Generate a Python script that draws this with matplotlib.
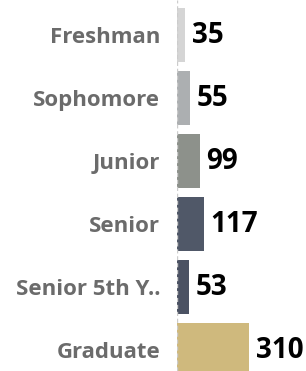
import matplotlib.pyplot as plt

categories = ["Freshman", "Sophomore", "Junior", "Senior", "Senior 5th Y..", "Graduate"]
counts = [35, 55, 99, 117, 53, 310]
colors = ["#d5d5d5", "#acafb1", "#8d918b", "#505868", "#4b5263", "#cfb97d"]

fig = plt.figure(figsize=(3.06, 3.71), dpi=100)
ax = fig.add_axes([177 / 306, 0, 1 - 177 / 306, 1])

pos = list(range(len(categories)))
ax.barh(pos, counts, height=0.86, color=colors)

for p, v in zip(pos, counts):
    ax.text(v + 28, p, str(v), va="center", ha="left",
            fontsize=20, fontweight="bold", family="Open Sans", color="black")

ax.set_xlim(0, 555)
ax.set_ylim(5.33, -0.556)
ax.axvline(0, color="#cccccc", lw=1, ls=(0, (3, 2)))

ax.set_yticks(pos)
ax.set_yticklabels(categories, fontsize=16, fontweight="bold",
                   family="Open Sans", color="#6b6b6b")
ax.tick_params(axis="y", length=0, pad=12)
ax.set_xticks([])
for s in ax.spines.values():
    s.set_visible(False)

fig.savefig("out.png", dpi=100)
